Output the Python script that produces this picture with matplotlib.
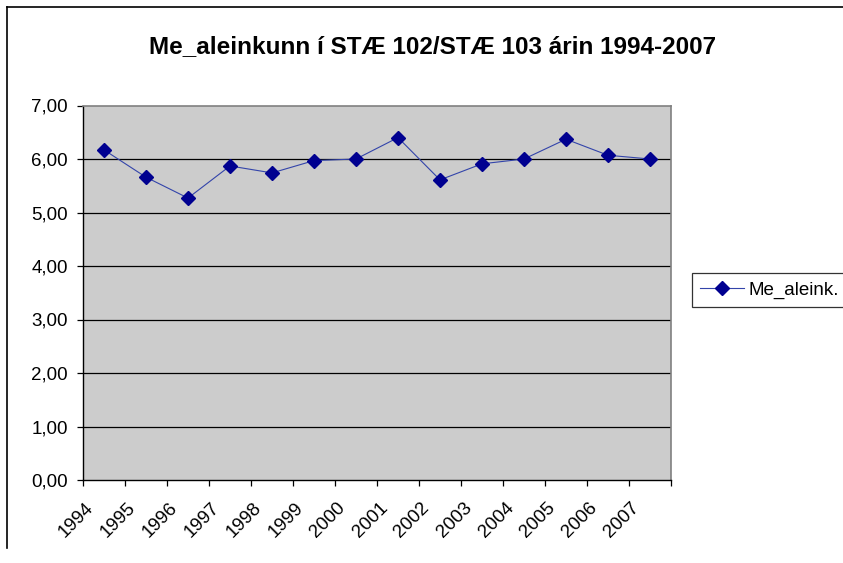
import matplotlib
matplotlib.use('Agg')
import matplotlib.pyplot as plt
from matplotlib.lines import Line2D
from matplotlib.transforms import ScaledTranslation

plt.rcParams['font.family'] = ['Liberation Sans', 'DejaVu Sans']

years = ['1994', '1995', '1996', '1997', '1998', '1999', '2000',
         '2001', '2002', '2003', '2004', '2005', '2006', '2007']
grades = [6.17, 5.66, 5.27, 5.87, 5.74, 5.97, 6.00,
          6.40, 5.61, 5.91, 6.00, 6.37, 6.07, 6.00]
yticks = [0, 1, 2, 3, 4, 5, 6, 7]

fig = plt.figure(figsize=(8.43, 5.63), dpi=100)
ax = fig.add_axes([83 / 843, 1 - 480 / 563, 588 / 843, 374.5 / 563])
ax.set_facecolor('#cccccc')

x = list(range(len(years)))
ax.plot(x, grades, color='#3344aa', lw=0.8, marker='D', markersize=7,
        markerfacecolor='#000090', markeredgecolor='#000090', label='Me_aleink.', zorder=3)

ax.set_xlim(-0.5, len(years) - 0.5)
ax.set_ylim(0, 7)

for v in yticks[1:-1]:
    ax.axhline(v, color='black', lw=0.9, zorder=1)

ax.set_yticks(yticks)
ax.set_yticklabels([f'{v:.2f}'.replace('.', ',') for v in yticks], fontsize=13.5)
ax.tick_params(axis='y', length=4, width=0.9, pad=7, direction='out')

ax.set_xticks(x)
ax.set_xticklabels(years, rotation=45, ha='right', fontsize=13.5)
ax.set_xticks([i - 0.5 for i in range(len(years) + 1)], minor=True)
ax.tick_params(axis='x', which='major', length=0, pad=14)
ax.tick_params(axis='x', which='minor', length=4, width=0.9, direction='out')
for lab in ax.get_xticklabels():
    lab.set_transform(lab.get_transform() + ScaledTranslation(-0.07, 0, fig.dpi_scale_trans))

for s in ['top', 'right']:
    ax.spines[s].set_color('#808080')
    ax.spines[s].set_linewidth(1.2)
for s in ['left', 'bottom']:
    ax.spines[s].set_color('black')
    ax.spines[s].set_linewidth(1.0)

fig.text(433 / 843, 1 - 53 / 563, 'Me_aleinkunn í STÆ 102/STÆ 103 árin 1994-2007',
         ha='center', va='baseline', fontsize=17.5, fontweight='bold')

leg = ax.legend(loc='upper left', bbox_to_anchor=(692 / 843, 1 - 273 / 563),
                bbox_transform=fig.transFigure, fontsize=13.5, frameon=True,
                fancybox=False, handlelength=2.3, borderpad=0.45,
                handletextpad=0.25, borderaxespad=0)
leg.get_frame().set_edgecolor('black')
leg.get_frame().set_linewidth(0.9)

# chart frame (partly cropped in the reference)
fig.add_artist(Line2D([7 / 843, 7 / 843], [1 - 548 / 563, 1 - 7 / 563],
                      transform=fig.transFigure, color='black', lw=1.2))
fig.add_artist(Line2D([7 / 843, 1], [1 - 7 / 563, 1 - 7 / 563],
                      transform=fig.transFigure, color='black', lw=1.2))

fig.savefig('out.png', dpi=100)
